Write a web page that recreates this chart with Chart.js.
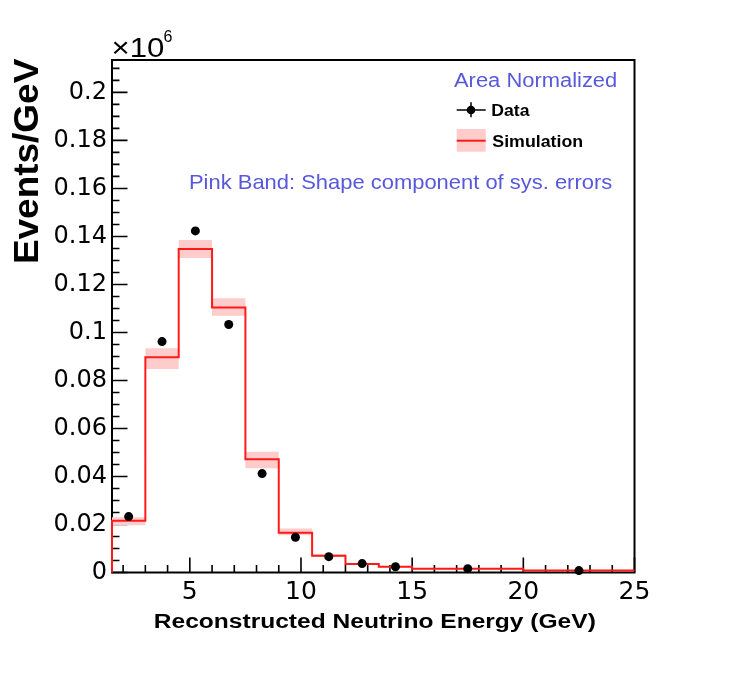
<!DOCTYPE html>
<html><head><meta charset="utf-8">
<script src="https://cdn.jsdelivr.net/npm/chart.js@4.4.0/dist/chart.umd.min.js"></script>
<style>html,body{margin:0;padding:0;background:#fff;} canvas{display:block;}</style>
</head><body>
<canvas id="c" width="748" height="675" style="width:748px;height:675px"></canvas>
<script>
// ---- data ----
const binEdges   = [1.5, 3, 4.5, 6, 7.5, 9, 10.5, 12, 13.5, 15, 20, 25];
const simValues  = [0.0216, 0.0897, 0.1348, 0.1104, 0.0472, 0.0166, 0.0070, 0.0035, 0.0024, 0.0016, 0.0008];
const simBandLow = [0.0197, 0.0848, 0.1310, 0.1070, 0.0434, 0.0155, 0.0065, 0.0032, 0.0022, 0.0014, 0.0006];
const simBandHigh= [0.0230, 0.0934, 0.1385, 0.1143, 0.0503, 0.0183, 0.0076, 0.0039, 0.0026, 0.0018, 0.0010];
const dataX      = [2.25, 3.75, 5.25, 6.75, 8.25, 9.75, 11.25, 12.75, 14.25, 17.5, 22.5];
const dataValues = [0.0233, 0.0962, 0.1423, 0.1033, 0.0412, 0.0147, 0.0066, 0.0037, 0.0024, 0.0016, 0.0008];
const xTickValues = [5, 10, 15, 20, 25];
const xTickLabels = ['5', '10', '15', '20', '25'];
const yTickValues = [0, 0.02, 0.04, 0.06, 0.08, 0.1, 0.12, 0.14, 0.16, 0.18, 0.2];
const yTickLabels = ['0', '0.02', '0.04', '0.06', '0.08', '0.1', '0.12', '0.14', '0.16', '0.18', '0.2'];
const xMin = 1.5, xMax = 25, yMin = 0, yMax = 0.2135;

function stepPoints(edges, vals, startZero) {
  const pts = startZero ? [{x: edges[0], y: 0}] : [];
  vals.forEach((v, i) => { pts.push({x: edges[i], y: v}); pts.push({x: edges[i + 1], y: v}); });
  return pts;
}

const BLUE = '#5858dc';
function inkText(ctx, text, left, baseline, font, color, inkWidth) {
  ctx.save();
  ctx.font = font; ctx.fillStyle = color; ctx.textAlign = 'left'; ctx.textBaseline = 'alphabetic';
  const m = ctx.measureText(text);
  const w = m.actualBoundingBoxLeft + m.actualBoundingBoxRight;
  const sx = inkWidth / w;
  ctx.translate(left, baseline);
  ctx.scale(sx, 1);
  ctx.fillText(text, m.actualBoundingBoxLeft, 0);
  ctx.restore();
}

const rootPlugin = {
  id: 'rootFrame',
  beforeDatasetsDraw(chart) {
    const ctx = chart.ctx, a = chart.chartArea;
    const xs = chart.scales.x, ys = chart.scales.y;
    ctx.save();
    ctx.strokeStyle = '#000'; ctx.lineWidth = 2;
    ctx.strokeRect(a.left, a.top, a.right - a.left, a.bottom - a.top);
    ctx.lineWidth = 1.6;
    ctx.beginPath();
    for (let v = 2; v <= 25; v += 1) {
      const px = xs.getPixelForValue(v);
      const len = (v % 5 === 0) ? 15 : 7.5;
      ctx.moveTo(px, a.bottom); ctx.lineTo(px, a.bottom - len);
    }
    for (let k = 0; k <= 42; k++) {
      const v = k * 0.005;
      const py = ys.getPixelForValue(v);
      const len = (k % 4 === 0) ? 15.5 : 7.5;
      ctx.moveTo(a.left, py); ctx.lineTo(a.left + len, py);
    }
    ctx.stroke();
    ctx.restore();
  },
  afterDraw(chart) {
    const ctx = chart.ctx;
    const F = '"Liberation Sans", Arial, sans-serif';
    // exponent
    inkText(ctx, '\u00d710', 112.7, 57, '27px ' + F, '#000', 50.6);
    inkText(ctx, '6', 163.5, 42, '17px ' + F, '#000', 8.5);
    // legend
    inkText(ctx, 'Area Normalized', 454, 87.3, '20px ' + F, BLUE, 162);
    ctx.save();
    ctx.strokeStyle = '#000'; ctx.lineWidth = 1.5;
    ctx.beginPath();
    ctx.moveTo(456.7, 110); ctx.lineTo(485.7, 110);
    ctx.moveTo(471, 102.3); ctx.lineTo(471, 117.3);
    ctx.stroke();
    ctx.fillStyle = '#000';
    ctx.beginPath(); ctx.arc(471, 110, 4.3, 0, Math.PI * 2); ctx.fill();
    ctx.fillStyle = '#ffcccc';
    ctx.fillRect(456.7, 129, 29, 22.7);
    ctx.strokeStyle = '#ff1a1a'; ctx.lineWidth = 2;
    ctx.beginPath(); ctx.moveTo(456.7, 140.7); ctx.lineTo(485.7, 140.7); ctx.stroke();
    ctx.restore();
    inkText(ctx, 'Data', 492.3, 116, 'bold 17px ' + F, '#000', 37.7);
    inkText(ctx, 'Simulation', 492.3, 147.3, 'bold 17px ' + F, '#000', 90.4);
    inkText(ctx, 'Pink Band: Shape component of sys. errors', 190, 189.3, '21px ' + F, BLUE, 421.7);
    // axis titles
    inkText(ctx, 'Reconstructed Neutrino Energy (GeV)', 155, 628.3, 'bold 20px ' + F, '#000', 440);
    ctx.save();
    ctx.translate(38.3, 262);
    ctx.rotate(-Math.PI / 2);
    inkText(ctx, 'Events/GeV', 0, 0, 'bold 35px ' + F, '#000', 204);
    ctx.restore();
  }
};

new Chart(document.getElementById('c'), {
  type: 'line',
  data: {
    datasets: [
      { label: 'Data', data: dataX.map((x, i) => ({x: x, y: dataValues[i]})), showLine: false,
        pointRadius: 4.5, pointBackgroundColor: '#000', pointBorderColor: '#000', pointBorderWidth: 0, clip: 8 },
      { label: 'Simulation', data: stepPoints(binEdges, simValues, true), borderColor: '#ff1a1a', borderWidth: 2,
        pointRadius: 0, tension: 0, fill: false, clip: 3 },
      { label: 'bandHigh', data: stepPoints(binEdges, simBandHigh, false), borderWidth: 0, borderColor: 'rgba(0,0,0,0)',
        pointRadius: 0, tension: 0, fill: '+1', backgroundColor: '#ffcccc' },
      { label: 'bandLow', data: stepPoints(binEdges, simBandLow, false), borderWidth: 0, borderColor: 'rgba(0,0,0,0)',
        pointRadius: 0, tension: 0, fill: false }
    ]
  },
  options: {
    responsive: false, animation: false, devicePixelRatio: 1,
    layout: { padding: { left: 0, right: 113.5, top: 60, bottom: 0 } },
    plugins: { legend: { display: false }, tooltip: { enabled: false } },
    scales: {
      x: {
        type: 'linear', min: xMin, max: xMax,
        grid: { display: false, drawTicks: false }, border: { display: false },
        afterBuildTicks: s => { s.ticks = xTickValues.map(v => ({value: v})); },
        afterFit: s => { s.height = 102.5; },
        ticks: { color: '#000', font: { family: '"DejaVu Sans"', size: 25 }, padding: 5,
          maxRotation: 0, autoSkip: false, callback: (v, i) => xTickLabels[i] }
      },
      y: {
        type: 'linear', min: yMin, max: yMax,
        grid: { display: false, drawTicks: false }, border: { display: false },
        afterBuildTicks: s => { s.ticks = yTickValues.map(v => ({value: v})); },
        afterFit: s => { s.width = 112; },
        ticks: { color: '#000', font: { family: '"DejaVu Sans"', size: 24 }, padding: 5,
          autoSkip: false, callback: (v, i) => yTickLabels[i] }
      }
    }
  },
  plugins: [rootPlugin]
});
</script>
</body></html>
